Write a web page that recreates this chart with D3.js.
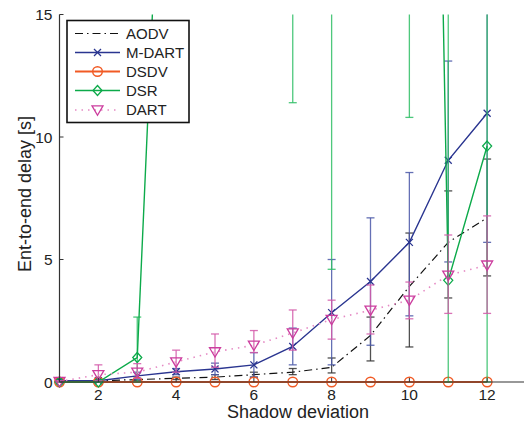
<!DOCTYPE html>
<html>
<head>
<meta charset="utf-8">
<script src="https://cdn.jsdelivr.net/npm/d3@7"></script>
<style>
  html, body { margin: 0; padding: 0; background: #fff; }
  svg { display: block; }
  text { font-family: "Liberation Sans", Arial, Helvetica, sans-serif; fill: #222; }
</style>
</head>
<body>
<svg id="chart" width="524" height="425"></svg>
<script>
// ---- data ----
const xs = [1, 2, 3, 4, 5, 6, 7, 8, 9, 10, 11, 12];

const aodv   = [0.05, 0.05, 0.1, 0.15, 0.2, 0.3, 0.4, 0.6, 1.9, 3.9, 5.7, 6.7];
const aodvLo = [0, 0, 0.05, 0.1, 0.1, 0.2, 0.3, 0.37, 0.86, 1.43, 3.43, 4.33];
const aodvHi = [0.1, 0.1, 0.15, 0.2, 0.3, 0.4, 0.55, 0.98, 2.65, 6.08, 7.8, 9.1];

const mdart   = [0.05, 0.05, 0.25, 0.42, 0.53, 0.7, 1.45, 2.83, 4.1, 5.7, 9.05, 10.97];
const mdartLo = [0, 0, 0.1, 0.3, 0.3, 0.2, 0.7, 0.7, 1.5, 2.7, 4.9, 5.7];
const mdartHi = [0.1, 0.1, 0.4, 0.55, 0.77, 1.2, 2.2, 5.0, 6.7, 8.55, 13.1, 16.2];

const dsdv   = [0, 0, 0, 0, 0, 0, 0, 0, 0, 0, 0, 0];

const dsr   = [0, 0, 1.0, 37, 45, 50, 40, 35, 60, 88, 4.15, 9.63];
const dsrLo = [0, 0, 0, 20, 25, 30, 11.4, 4.6, 20, 10.8, 0, 0];
const dsrHi = [0, 0, 2.65, 55, 65, 70, 70, 65, 100, 165, 20, 20];

const dart   = [0.02, 0.3, 0.4, 0.82, 1.23, 1.5, 2.0, 2.55, 2.93, 3.34, 4.36, 4.77];
const dartLo = [0, 0.05, 0.15, 0.4, 0.6, 1.2, 1.3, 1.75, 1.96, 2.58, 2.8, 2.8];
const dartHi = [0.05, 0.7, 0.75, 1.3, 1.96, 2.1, 2.94, 3.34, 3.96, 4.08, 6.0, 6.78];

const xTicks = [2, 4, 6, 8, 10, 12];
const yTicks = [0, 5, 10, 15];

const seriesNames = ["AODV", "M-DART", "DSDV", "DSR", "DART"];

// ---- layout ----
const svg = d3.select("#chart");
const L = 59.5, R = 526, T = 14.5, B = 382;
const x = d3.scaleLinear().domain([1, 13]).range([L, R]);
const y = d3.scaleLinear().domain([0, 15]).range([B, T]);

const series = [
  { name: seriesNames[0], v: aodv, lo: aodvLo, hi: aodvHi, color: "#111", lineColor: "#111", dash: "8,4,1.5,4", width: 1.2, marker: null, errColor: "#333" },
  { name: seriesNames[1], v: mdart, lo: mdartLo, hi: mdartHi, color: "#2a3590", lineColor: "#2a3590", dash: null, width: 1.4, marker: "x", errColor: "#4a58a8" },
  { name: seriesNames[2], v: dsdv, lo: null, hi: null, color: "#f15a24", lineColor: "#f15a24", dash: null, width: 1.8, marker: "o", errColor: "#f15a24" },
  { name: seriesNames[3], v: dsr, lo: dsrLo, hi: dsrHi, color: "#0caa4a", lineColor: "#0caa4a", dash: null, width: 1.4, marker: "d", errColor: "#2fbf66" },
  { name: seriesNames[4], v: dart, lo: dartLo, hi: dartHi, color: "#cc3d9e", lineColor: "#e58ac4", dash: "1.5,5", width: 1.6, marker: "v", errColor: "#d45aaa" }
];

svg.append("defs").append("clipPath").attr("id", "plotclip")
  .append("rect").attr("x", L - 8).attr("y", T).attr("width", R - L + 16).attr("height", B - T + 8);

function drawMarker(g, type, cx, cy, color) {
  if (type === "x") {
    const s = 3.5;
    g.append("path").attr("d", `M${cx - s},${cy - s}L${cx + s},${cy + s}M${cx - s},${cy + s}L${cx + s},${cy - s}`)
      .attr("stroke", color).attr("stroke-width", 1.3).attr("fill", "none");
  } else if (type === "o") {
    g.append("circle").attr("cx", cx).attr("cy", cy).attr("r", 4.8)
      .attr("stroke", color).attr("stroke-width", 1.4).attr("fill", "none");
  } else if (type === "d") {
    const s = 5;
    g.append("path").attr("d", `M${cx},${cy - s}L${cx + s * 0.9},${cy}L${cx},${cy + s}L${cx - s * 0.9},${cy}Z`)
      .attr("stroke", color).attr("stroke-width", 1.3).attr("fill", "none");
  } else if (type === "v") {
    const s = 5.5;
    g.append("path").attr("d", `M${cx - s},${cy - s * 0.75}L${cx + s},${cy - s * 0.75}L${cx},${cy + s * 0.95}Z`)
      .attr("stroke", color).attr("stroke-width", 1.3).attr("fill", "none");
  }
}

const plot = svg.append("g").attr("clip-path", "url(#plotclip)");
const line = d3.line().x((d, i) => x(xs[i])).y(d => y(d));

series.forEach(s => {
  const g = plot.append("g");
  // error bars
  if (s.lo) {
    xs.forEach((xv, i) => {
      const px = x(xv);
      g.append("line").attr("x1", px).attr("x2", px).attr("y1", y(s.lo[i])).attr("y2", y(s.hi[i]))
        .attr("stroke", s.errColor).attr("stroke-width", 1.3).attr("opacity", 0.85);
      [s.lo[i], s.hi[i]].forEach(v => {
        g.append("line").attr("x1", px - 4).attr("x2", px + 4).attr("y1", y(v)).attr("y2", y(v))
          .attr("stroke", s.errColor).attr("stroke-width", 1.3).attr("opacity", 0.85);
      });
    });
  }
  g.append("path").datum(s.v).attr("d", line).attr("fill", "none")
    .attr("stroke", s.lineColor).attr("stroke-width", s.width)
    .attr("stroke-dasharray", s.dash);
  if (s.marker) {
    s.v.forEach((v, i) => drawMarker(g, s.marker, x(xs[i]), y(v), s.color));
  }
});

// ---- axes ----
const axisColor = "#333";
svg.append("line").attr("x1", L).attr("x2", 524).attr("y1", B).attr("y2", B).attr("stroke", axisColor).attr("stroke-width", 1.2);
svg.append("line").attr("x1", L).attr("x2", L).attr("y1", T).attr("y2", B).attr("stroke", axisColor).attr("stroke-width", 1.2);

xTicks.forEach(t => {
  svg.append("line").attr("x1", x(t)).attr("x2", x(t)).attr("y1", B).attr("y2", B - 4).attr("stroke", axisColor);
  svg.append("text").attr("x", x(t)).attr("y", B + 18).attr("text-anchor", "middle")
    .attr("font-size", 15.5).text(t);
});
yTicks.forEach(t => {
  svg.append("line").attr("x1", L).attr("x2", L + 4).attr("y1", y(t)).attr("y2", y(t)).attr("stroke", axisColor);
  svg.append("text").attr("x", L - 7).attr("y", y(t) + 5.5).attr("text-anchor", "end")
    .attr("font-size", 15.5).text(t);
});

svg.append("text").attr("x", 298).attr("y", 418).attr("text-anchor", "middle")
  .attr("font-size", 18).text("Shadow deviation");
svg.append("text").attr("transform", "translate(31,194) rotate(-90)").attr("text-anchor", "middle")
  .attr("font-size", 18).text("Ent-to-end delay [s]");

// ---- legend ----
const lg = svg.append("g");
lg.append("rect").attr("x", 67).attr("y", 20.5).attr("width", 122).attr("height", 102)
  .attr("fill", "#fff").attr("stroke", "#111").attr("stroke-width", 1.6);
const legY = [33.5, 52.5, 71.5, 90.5, 110];
series.forEach((s, i) => {
  const ly = legY[i];
  lg.append("line").attr("x1", 75).attr("x2", 120).attr("y1", ly).attr("y2", ly)
    .attr("stroke", s.lineColor).attr("stroke-width", s.width).attr("stroke-dasharray", s.dash);
  if (s.marker) drawMarker(lg, s.marker, 97.5, ly, s.color);
  lg.append("text").attr("x", 126).attr("y", ly + 5.3).attr("font-size", 15).text(s.name);
});
</script>
</body>
</html>
